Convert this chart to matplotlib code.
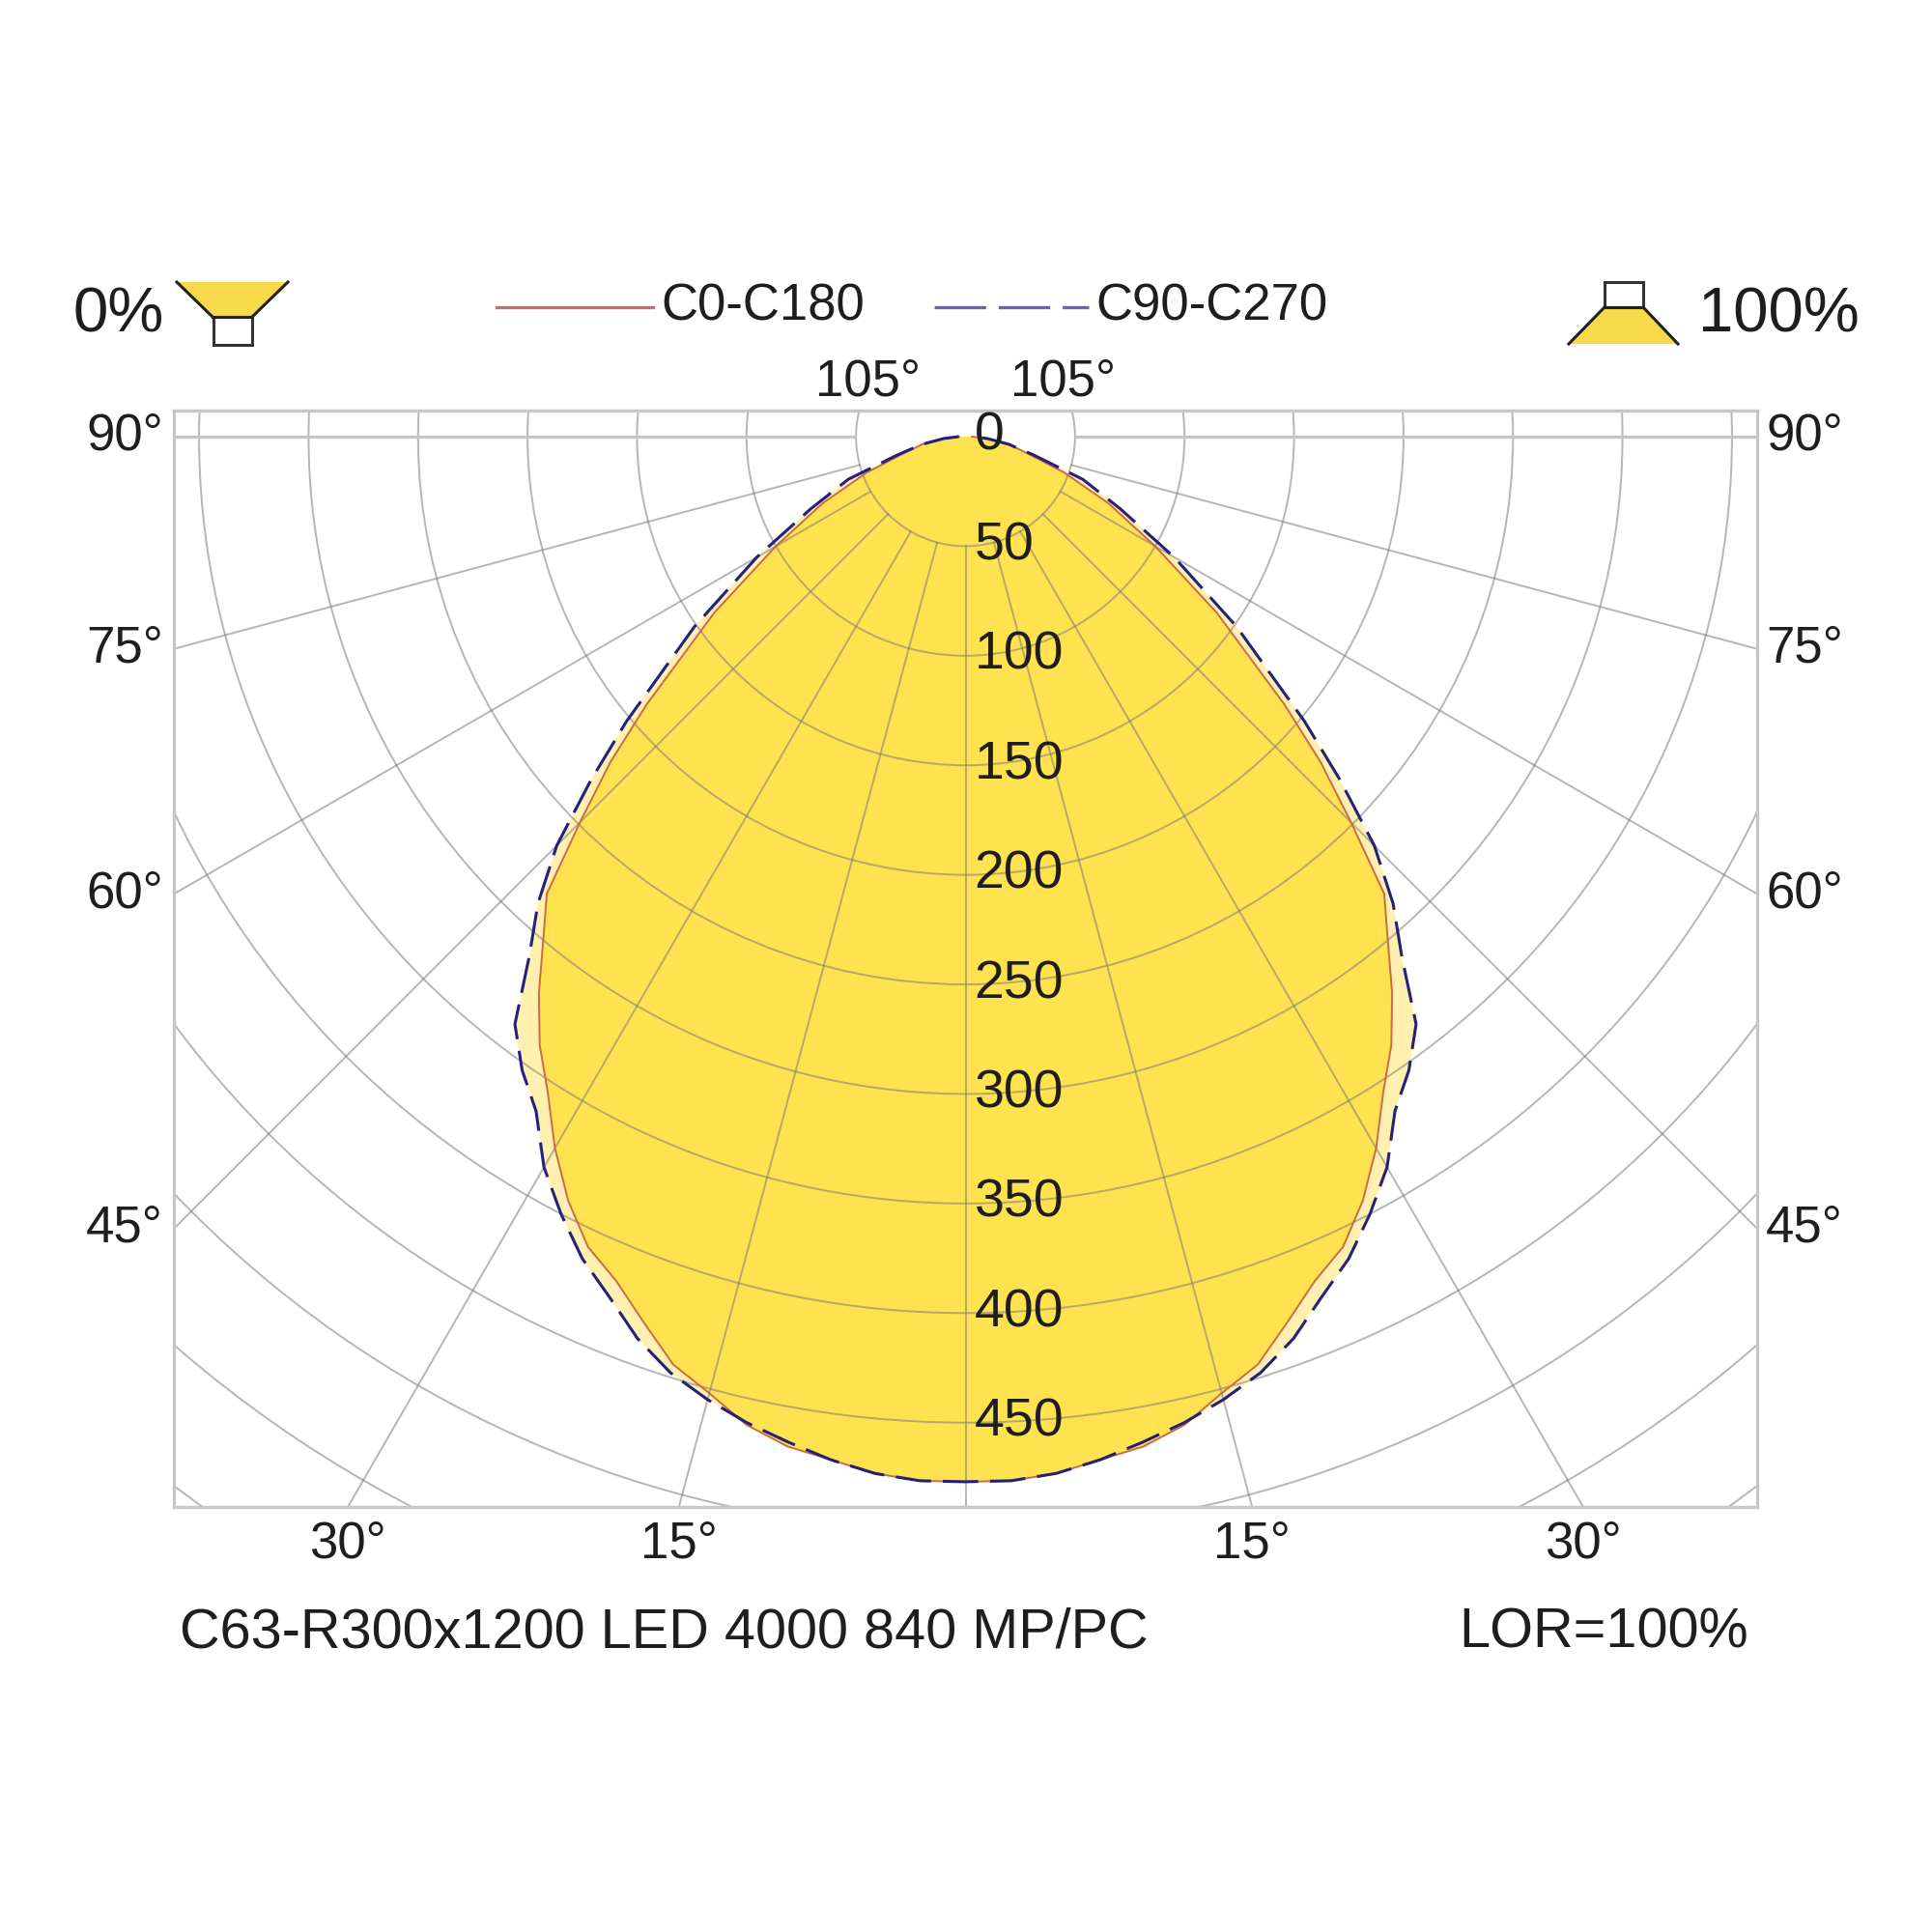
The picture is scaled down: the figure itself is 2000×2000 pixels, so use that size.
import numpy as np
import matplotlib
matplotlib.use("Agg")
import matplotlib.pyplot as plt
from matplotlib.patches import Circle, Polygon, Rectangle
from matplotlib.lines import Line2D

plt.rcParams['font.family'] = ['Liberation Sans', 'DejaVu Sans']

# ---------------- data ----------------
gamma_deg = [0, 2.5, 5, 7.5, 10, 12.5, 15, 17.5, 20, 22.5, 25, 27.5, 30, 32.5, 35,
             37.5, 40, 42.5, 45, 47.5, 50, 55, 60, 65, 70, 75, 80, 85, 90]
c0_c180 = [477, 477, 475, 471, 468, 462, 452, 444, 430, 417, 408, 393, 375, 355, 339,
           320, 300, 283, 249, 220, 190, 140, 100, 72, 48, 29, 20, 10, 3]
c90_c270 = [477, 477, 475, 471, 466, 461, 455, 448, 438, 425, 414, 400, 385, 365, 353,
            338, 310, 289, 264, 232, 202, 151, 110, 78, 57, 32, 20, 10, 3]

ring_values = [50, 100, 150, 200, 250, 300, 350, 400, 450, 500, 550, 600]
ring_labels = ["0", "50", "100", "150", "200", "250", "300", "350", "400", "450"]
ring_label_values = [0, 50, 100, 150, 200, 250, 300, 350, 400, 450]
radial_angles = [0, 15, 30, 45, 60, 75, 90]
side_label_angles = [90, 75, 60, 45]
bottom_label_angles = [30, 15]
top_label_angle = 105

series_names = ["C0-C180", "C90-C270"]
title_text = "C63-R300x1200 LED 4000 840 MP/PC"
lor_text = "LOR=100%"
down_text = "0%"
up_text = "100%"

# ---------------- styles ----------------
W = H = 2000
TXT = '#1e1e1e'
GRID = '#7a7a7a'
FRAME = '#c6c6c6'
YEL = '#ffe24f'
PALE = '#fff0b0'
RED = '#cc6a48'
NAVY = '#22227a'


def fx(px):
    return px / W


def fy(py):
    return 1 - py / H


fig = plt.figure(figsize=(20, 20), dpi=100)
fig.patch.set_facecolor('white')

XL = 361.5
YB, YT = -488.5, 11.9
ax = fig.add_axes([fx(180), fy(1560), (1819 - 180) / W, (1560 - 425) / H])
ax.set_xlim(-XL, XL)
ax.set_ylim(YB, YT)
ax.set_xticks([])
ax.set_yticks([])
for s in ax.spines.values():
    s.set_color(FRAME)
    s.set_linewidth(2.4)


def curve_xy(vals):
    g = np.radians(np.array(gamma_deg, dtype=float))
    r = np.array(vals, dtype=float)
    xr = r * np.sin(g)
    yr = -r * np.cos(g)
    # left half (mirrored) from 90 down to 0, then right half 0 -> 90
    x = np.concatenate([-xr[::-1], xr[1:]])
    y = np.concatenate([yr[::-1], yr[1:]])
    return x, y


xb, yb = curve_xy(c90_c270)
xr_, yr_ = curve_xy(c0_c180)
ax.fill(np.append(xb, 0), np.append(yb, 0), color=PALE, lw=0, zorder=1)
ax.fill(np.append(xr_, 0), np.append(yr_, 0), color=YEL, lw=0, zorder=1.5)

# grid circles
for r in ring_values:
    ax.add_patch(Circle((0, 0), r, fill=False, ec=GRID, lw=1.4, alpha=0.55, zorder=2))

# radial lines starting at r=50
for a in radial_angles:
    for sgn in ([1] if a == 0 else [-1, 1]):
        t = np.radians(a)
        x0, y0 = sgn * 50 * np.sin(t), -50 * np.cos(t)
        x1, y1 = sgn * 1500 * np.sin(t), -1500 * np.cos(t)
        if a == 90:
            ax.plot([x0, x1], [y0, y1], color=FRAME, lw=2.4, zorder=2, solid_capstyle='butt')
        else:
            ax.plot([x0, x1], [y0, y1], color=GRID, lw=1.4, alpha=0.55, zorder=2)

# curves
ax.plot(xr_, yr_, color=RED, lw=1.4, zorder=3)
ax.plot(xb, yb, color=NAVY, lw=2.2, ls=(0, (12, 4)), zorder=3.1)

# ring value labels
for v, lab in zip(ring_label_values, ring_labels):
    ax.text(4, -v, lab, fontsize=40, color=TXT, ha='left', va='center', zorder=5)

# side angle labels
for a in side_label_angles:
    t = np.radians(a)
    yy = -XL * np.cos(t) / np.sin(t)
    ax.text(-XL - 5, yy, f"{a}°", fontsize=38, color=TXT, ha='right', va='center', clip_on=False)
    ax.text(XL + 4, yy, f"{a}°", fontsize=38, color=TXT, ha='left', va='center', clip_on=False)

# bottom angle labels
for a in bottom_label_angles:
    xx = -YB * np.tan(np.radians(a))
    for sgn in (-1, 1):
        ax.text(sgn * xx, YB - 17, f"{a}°", fontsize=38, color=TXT, ha='center', va='center', clip_on=False)

# top labels (105°)
t = np.radians(top_label_angle - 90)
xx = YT / np.tan(t)
for sgn in (-1, 1):
    ax.text(sgn * xx, YT + 13, f"{top_label_angle}°", fontsize=38, color=TXT, ha='center', va='center', clip_on=False)

# ---------------- header ----------------
fig.text(fx(76), fy(327), down_text, fontsize=47, color=TXT, ha='left', va='center')
fig.text(fx(1758), fy(327), up_text, fontsize=47, color=TXT, ha='left', va='center')

# downlight icon (0%)
trap = [(183, 292), (298, 292), (261, 328), (220, 328)]
fig.add_artist(Polygon([(fx(a), fy(b)) for a, b in trap], closed=True, fc='#f7d94a', ec='none',
                       transform=fig.transFigure))
for (a1, b1), (a2, b2) in [((183, 292), (220, 328)), ((298, 292), (261, 328)), ((220, 328), (261, 328))]:
    fig.add_artist(Line2D([fx(a1), fx(a2)], [fy(b1), fy(b2)], color='#222222', lw=2.2,
                          transform=fig.transFigure))
fig.add_artist(Rectangle((fx(221), fy(357)), (261 - 221) / W, (357 - 328) / H, fc='white', ec='#333333',
                         lw=2.2, transform=fig.transFigure))

# uplight icon (100%)
trap2 = [(1661, 318), (1701, 318), (1737, 356), (1624, 356)]
fig.add_artist(Polygon([(fx(a), fy(b)) for a, b in trap2], closed=True, fc='#f7d94a', ec='none',
                       transform=fig.transFigure))
for (a1, b1), (a2, b2) in [((1661, 318), (1624, 356)), ((1701, 318), (1737, 356)), ((1661, 318), (1701, 318))]:
    fig.add_artist(Line2D([fx(a1), fx(a2)], [fy(b1), fy(b2)], color='#222222', lw=2.2,
                          transform=fig.transFigure))
fig.add_artist(Rectangle((fx(1661), fy(318)), 40 / W, 26 / H, fc='white', ec='#333333',
                         lw=2.2, transform=fig.transFigure))

# legend
fig.add_artist(Line2D([fx(514), fx(676)], [fy(318), fy(318)], color='#c07272', lw=2.4,
                      transform=fig.transFigure))
fig.text(fx(684), fy(318), series_names[0], fontsize=38, color=TXT, ha='left', va='center')
fig.add_artist(Line2D([fx(967), fx(1127)], [fy(318), fy(318)], color='#6666aa', lw=2.4,
                      ls=(0, (16, 3.9)), transform=fig.transFigure))
fig.text(fx(1134), fy(318), series_names[1], fontsize=38, color=TXT, ha='left', va='center')

# footer
fig.text(fx(186), fy(1691), title_text, fontsize=41.5, color=TXT, ha='left', va='center')
fig.text(fx(1810), fy(1691), lor_text, fontsize=41.5, color=TXT, ha='right', va='center')

fig.savefig("out.png", dpi=100, facecolor='white')
